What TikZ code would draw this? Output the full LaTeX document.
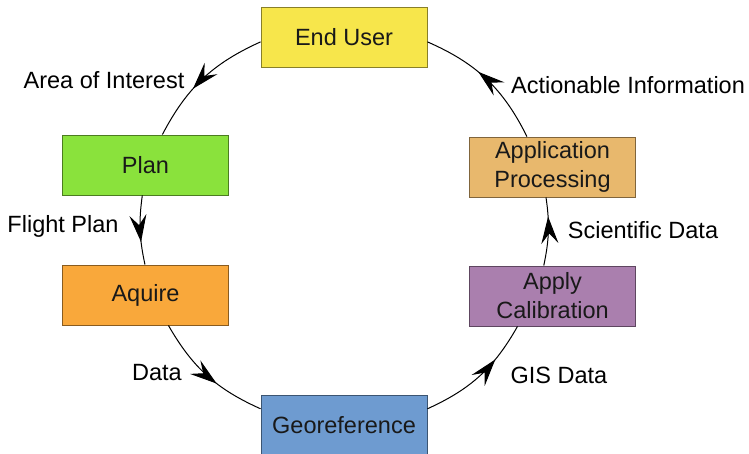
\documentclass[tikz,border=0pt]{standalone}
\usepackage{fontspec}
\setmainfont{Liberation Sans}
\usetikzlibrary{arrows.meta,decorations.markings}
\definecolor{cEU}{RGB}{247,230,75}
\definecolor{cPlan}{RGB}{138,226,60}
\definecolor{cAq}{RGB}{249,168,59}
\definecolor{cGeo}{RGB}{110,155,208}
\definecolor{cApp}{RGB}{232,184,109}
\definecolor{cCal}{RGB}{170,127,174}
\tikzset{
  box/.style={draw=#1!55!black, fill=#1, line width=0.9pt, minimum width=166pt, minimum height=60pt,
    inner sep=0pt, align=center, font=\fontsize{23.5}{29}\selectfont, text=black!90},
  lbl/.style={font=\fontsize{23.5}{29}\selectfont, inner sep=0pt},
  conn/.style={line width=1pt, postaction={decorate},
    decoration={markings, mark=at position #1 with {\arrow{Stealth[length=27pt,width=17pt,inset=10pt]}}}}
}
\begin{document}
\begin{tikzpicture}[x=1pt,y=1pt]
\useasboundingbox (0,0) rectangle (749,-453);
\node[box=cEU]   (eu)   at (344,-37.5) {End User};
\node[box=cPlan] (plan) at (145.5,-165) {Plan};
\node[box=cAq]   (aq)   at (145.5,-295) {Aquire};
\node[box=cGeo]  (geo)  at (344,-425) {Georeference};
\node[box=cCal]  (cal)  at (552.5,-296) {Apply\\Calibration};
\node[box=cApp]  (app)  at (552.5,-167) {Application\\Processing};
\draw[conn=0.6] (eu.183) to[bend right=19] (plan.61);
\draw[conn=0.67] (plan.264) to[bend right=10] (aq.91);
\draw[conn=0.6] (aq.307) to[bend right=18] (geo.169);
\draw[conn=0.68] (geo.11) to[bend right=18] (cal.221);
\draw[conn=0.72] (cal.106) to[bend right=10] (app.258);
\draw[conn=0.58] (app.130) to[bend right=20] (eu.357);
\node[lbl] (l1) at (104,-80) {Area of Interest};
\node[lbl] (l2) at (63,-226) {Flight Plan};
\node[lbl] (l3) at (157,-373) {Data};
\node[lbl] (l4) at (559,-375) {GIS Data};
\node[lbl] (l5) at (643,-230) {Scientific Data};
\node[lbl] (l6) at (628,-85) {Actionable Information};
\end{tikzpicture}
\end{document}
